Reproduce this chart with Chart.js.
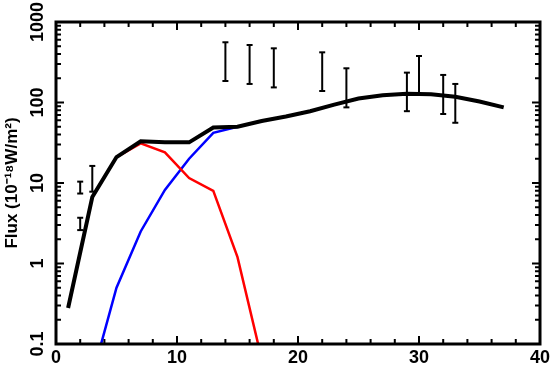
<!DOCTYPE html>
<html>
<head>
<meta charset="utf-8">
<script src="https://cdn.jsdelivr.net/npm/chart.js@4/dist/chart.umd.min.js"></script>
<style>
  html, body { margin: 0; padding: 0; background: #fff; }
</style>
</head>
<body>
<canvas id="chart-flux" width="550" height="367"></canvas>
<script>
// Model curves, sampled every 2 units
const WAVE = [1, 3, 5, 7, 9, 11, 13, 15, 17, 19, 21, 23, 25, 27, 29, 31, 33, 35, 37];
const TOTAL = [0.28, 6.7, 21, 33, 32, 32, 49, 50, 59, 67, 78, 94, 112, 123, 128, 127, 118, 103, 87];
const COLD = [null, null, 21, 31, 24, 11.5, 8, 1.2, 0.065, null, null, null, null, null, null, null, null, null, null];
const WARM = [null, 0.04, 0.5, 2.5, 8.2, 20, 42, 50, null, null, null, null, null, null, null, null, null, null, null];

// Measured fluxes, shown as error bars only
const ERR_X = [2, 2, 3, 14, 16, 18, 22, 24, 29, 30, 32, 33];
const ERR_LO = [7.4, 2.6, 7.8, 185, 170, 154, 139, 87, 78, 125, 72, 56];
const ERR_HI = [10.4, 3.7, 16.3, 560, 518, 471, 420, 266, 235, 378, 220, 170];

// Axes
const X_MIN = 0, X_MAX = 40, X_STEP = 2;
const X_LABELS = [0, 10, 20, 30, 40];
const Y_DECADES = [0.1, 1, 10, 100, 1000];
const Y_TICKS = [];
Y_DECADES.forEach((d, i) => {
  if (i === Y_DECADES.length - 1) { Y_TICKS.push(d); return; }
  for (let k = 1; k <= 9; k++) Y_TICKS.push(+(d * k).toPrecision(3));
});

const FONT = 'Liberation Sans, Arial, Helvetica, sans-serif';

function pairs(xs, ys) {
  return xs.map((x, i) => ({ x: x, y: ys[i] }));
}

function errorBars() {
  const pts = [];
  ERR_X.forEach((x, i) => {
    pts.push({ x: x, y: ERR_LO[i] }, { x: x, y: ERR_HI[i] }, { x: x, y: null });
  });
  return pts;
}

// inward tick marks on all four sides plus the box
const frame = {
  id: 'frame',
  afterDraw(chart) {
    const { ctx, chartArea: a, scales } = chart;
    ctx.save();
    ctx.strokeStyle = '#000';
    ctx.lineCap = 'butt';
    ctx.lineWidth = 2;
    ctx.beginPath();
    scales.x.ticks.forEach(t => {
      const px = scales.x.getPixelForValue(t.value);
      const len = X_LABELS.includes(t.value) ? 8 : 5;
      ctx.moveTo(px, a.bottom); ctx.lineTo(px, a.bottom - len);
      ctx.moveTo(px, a.top); ctx.lineTo(px, a.top + len);
    });
    scales.y.ticks.forEach(t => {
      const py = scales.y.getPixelForValue(t.value);
      const len = Y_DECADES.includes(t.value) ? 8 : 5;
      ctx.moveTo(a.left, py); ctx.lineTo(a.left + len, py);
      ctx.moveTo(a.right, py); ctx.lineTo(a.right - len, py);
    });
    ctx.stroke();
    ctx.lineWidth = 3;
    ctx.strokeRect(a.left, a.top, a.right - a.left, a.bottom - a.top);
    ctx.restore();
  }
};

Chart.defaults.color = '#000';
Chart.defaults.font.family = FONT;

new Chart(document.getElementById('chart-flux'), {
  type: 'line',
  data: {
    datasets: [
      {
        label: 'Total',
        data: pairs(WAVE, TOTAL),
        borderColor: '#000',
        borderWidth: 4,
        pointRadius: 0,
        tension: 0,
      },
      {
        label: 'Data',
        data: errorBars(),
        borderColor: '#000',
        borderWidth: 2,
        spanGaps: false,
        pointStyle: 'line',
        pointRadius: 3,
        pointBorderWidth: 2,
        pointBorderColor: '#000',
      },
      {
        label: 'Cold',
        data: pairs(WAVE, COLD),
        borderColor: '#ff0000',
        borderWidth: 2.5,
        pointRadius: 0,
        spanGaps: false,
        tension: 0,
      },
      {
        label: 'Warm',
        data: pairs(WAVE, WARM),
        borderColor: '#0000ff',
        borderWidth: 2.5,
        pointRadius: 0,
        spanGaps: false,
        tension: 0,
      },
    ],
  },
  options: {
    responsive: false,
    animation: false,
    events: [],
    layout: { padding: { top: 22, right: 10, left: 0, bottom: 0 } },
    plugins: {
      legend: { display: false },
      tooltip: { enabled: false },
    },
    scales: {
      x: {
        type: 'linear',
        min: X_MIN,
        max: X_MAX,
        grid: { display: false, drawTicks: false },
        border: { display: false },
        ticks: {
          stepSize: X_STEP,
          autoSkip: false,
          maxRotation: 0,
          padding: 3,
          font: { size: 18, weight: 'bold' },
          callback: v => (X_LABELS.includes(v) ? String(v) : ''),
        },
        afterFit: s => { s.height = 23; s.paddingLeft = 0; s.paddingRight = 0; },
      },
      y: {
        type: 'logarithmic',
        min: 0.1,
        max: 1000,
        grid: { display: false, drawTicks: false },
        border: { display: false },
        afterBuildTicks: s => { s.ticks = Y_TICKS.map(v => ({ value: v })); },
        ticks: {
          autoSkip: false,
          minRotation: 90,
          maxRotation: 90,
          crossAlign: 'center',
          padding: -2,
          font: { size: 18, weight: 'bold' },
          callback: v => (Y_DECADES.includes(v) ? String(v) : ''),
        },
        title: {
          display: true,
          text: 'Flux (10\u207B\u00B9\u2078W/m\u00B2)',
          font: { size: 17, weight: 'bold' },
          padding: { top: 2, bottom: 0 },
        },
        afterFit: s => { s.width = 56; s.paddingTop = 0; s.paddingBottom = 0; },
      },
    },
  },
  plugins: [frame],
});
</script>
</body>
</html>
